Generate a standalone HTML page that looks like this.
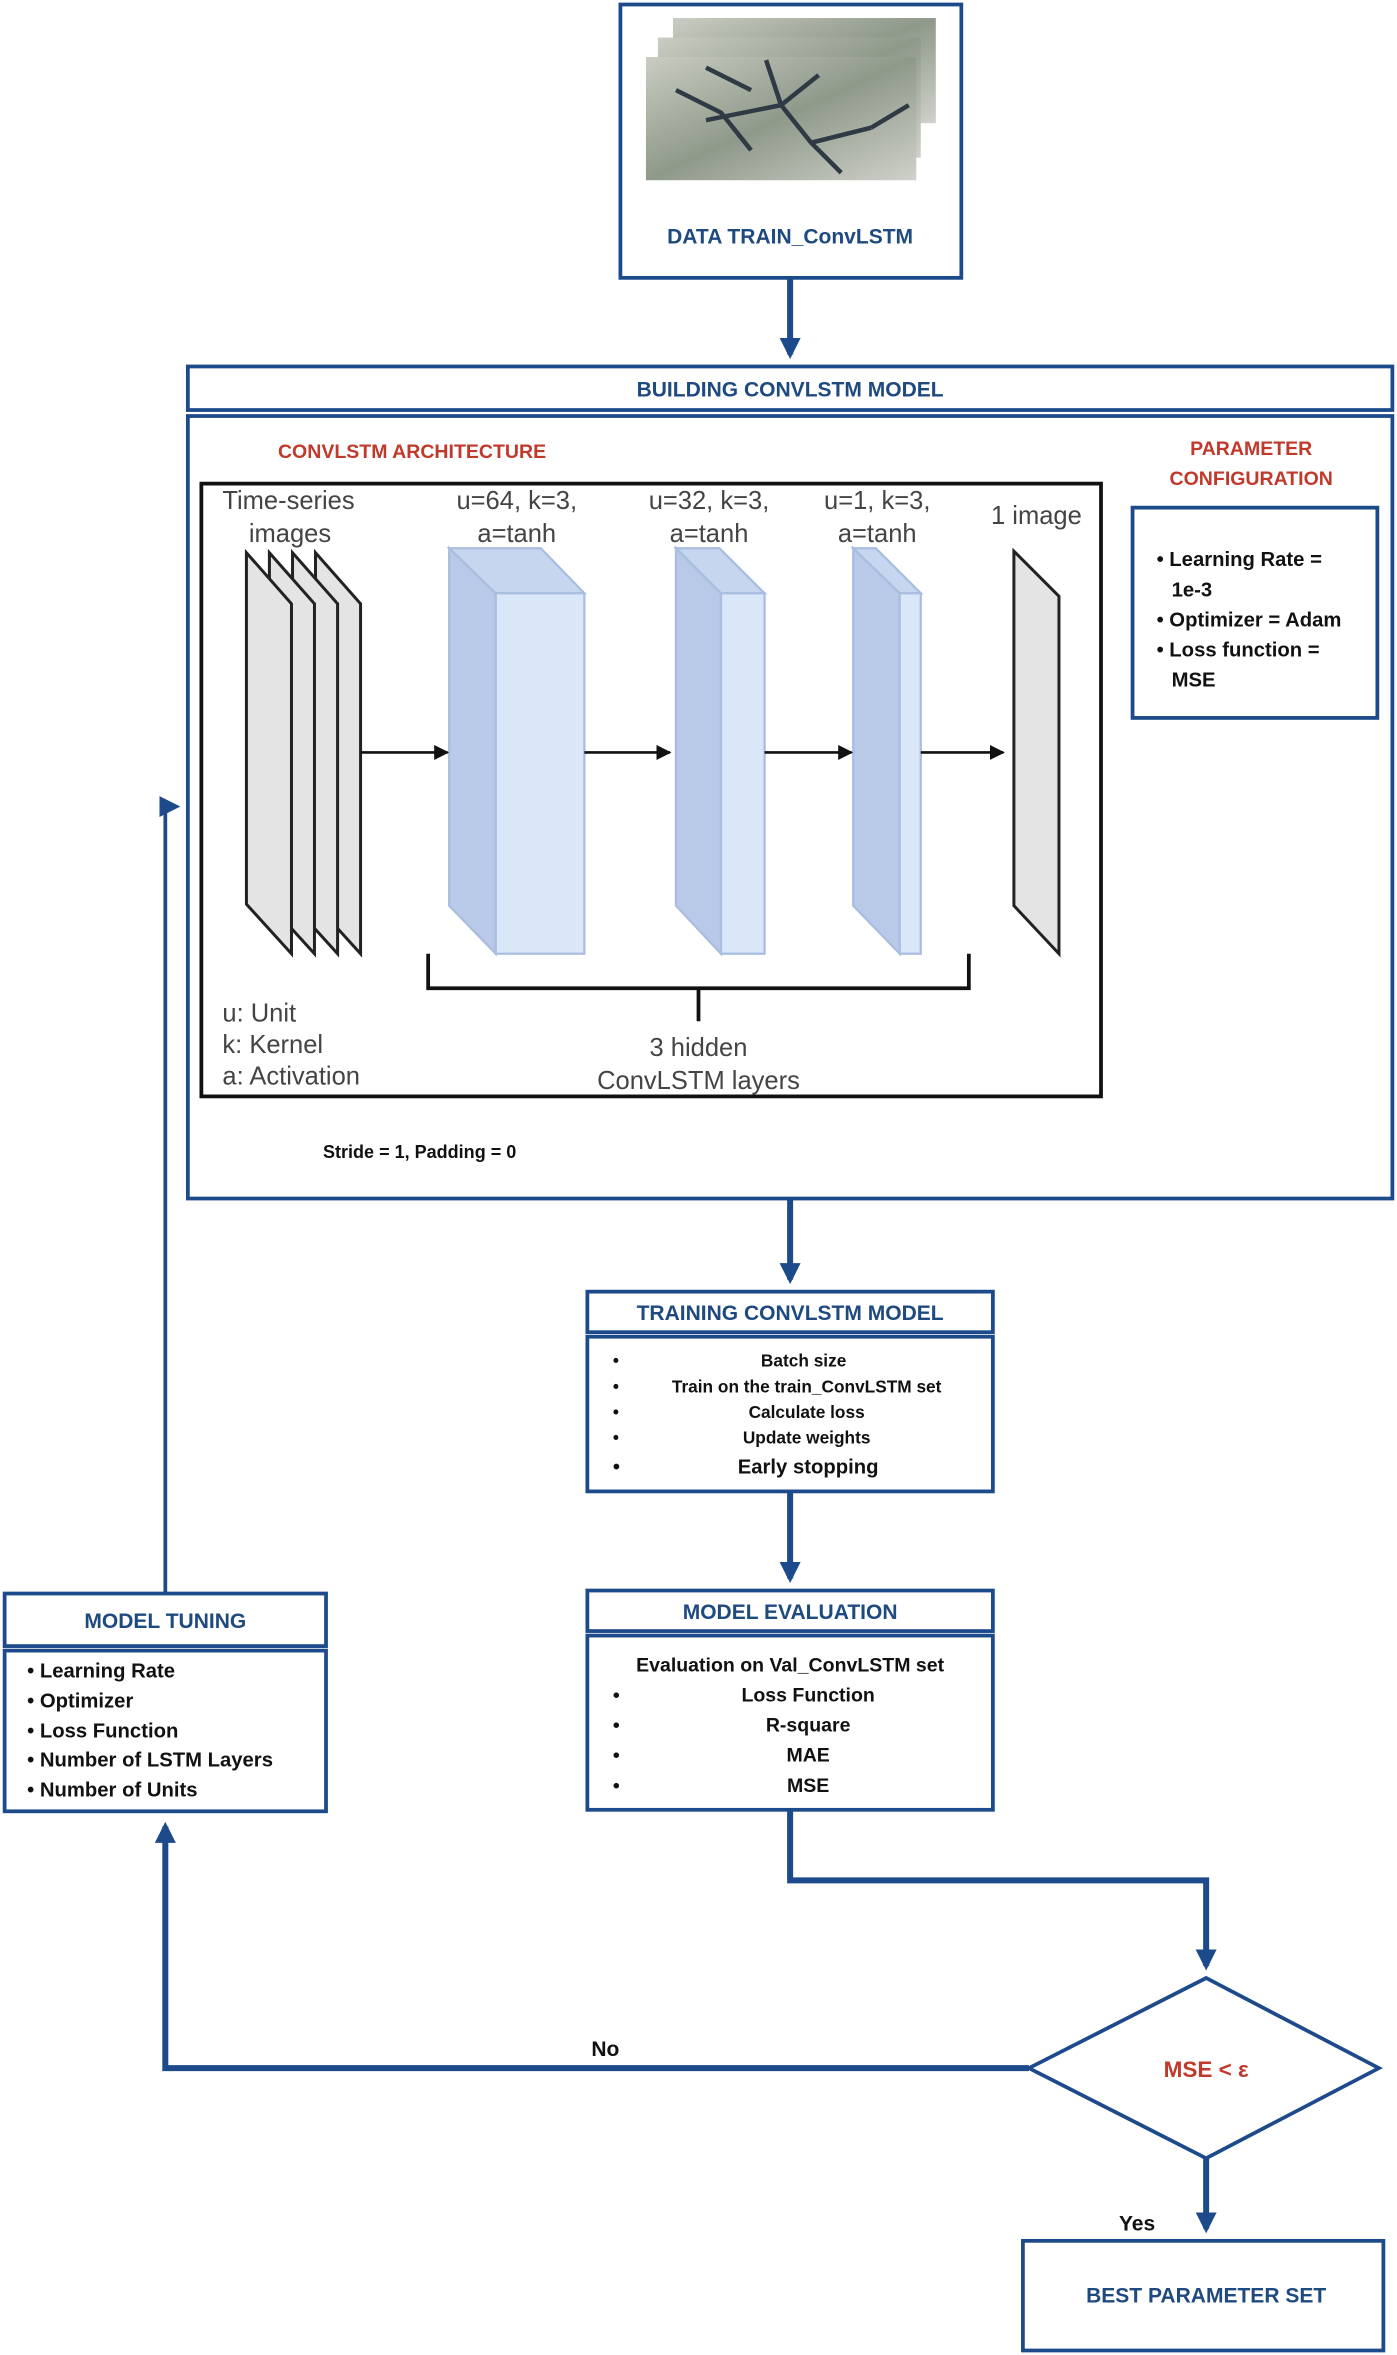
<!DOCTYPE html>
<html><head><meta charset="utf-8"><style>
html,body{margin:0;padding:0;background:#fff}
svg{display:block}
.h{font-family:"Liberation Sans",sans-serif;font-weight:bold;fill:#1f4a80}
.r{font-family:"Liberation Sans",sans-serif;font-weight:bold;fill:#c0392b}
.b{font-family:"Liberation Sans",sans-serif;font-weight:bold;fill:#111}
.a{font-family:"Liberation Sans",sans-serif;fill:#444}
</style></head><body>
<svg width="1397" height="2355" viewBox="0 0 930 1568" xmlns="http://www.w3.org/2000/svg">
<defs>
<marker id="ar" markerWidth="14" markerHeight="14" refX="11" refY="7" orient="auto" markerUnits="userSpaceOnUse"><path d="M0,0 L14,7 L0,14 Z" fill="#1d4a8a"/></marker>
<marker id="ak" markerWidth="10" markerHeight="10" refX="9" refY="5" orient="auto" markerUnits="userSpaceOnUse"><path d="M0,0 L10,5 L0,10 Z" fill="#111"/></marker>
<linearGradient id="sat" x1="0" y1="0" x2="1" y2="1"><stop offset="0" stop-color="#c9ccc2"/><stop offset="0.5" stop-color="#8f998a"/><stop offset="1" stop-color="#cfd1ca"/></linearGradient>
</defs>
<g fill="none" stroke="#1d4a8a" stroke-width="2.5">
<rect x="413" y="3" width="227" height="182"/>
<rect x="125" y="244" width="802" height="29"/>
<rect x="125" y="277" width="802" height="521"/>
<rect x="754" y="338" width="163" height="140"/>
<rect x="391" y="860" width="270" height="27"/>
<rect x="391" y="890" width="270" height="103"/>
<rect x="391" y="1059" width="270" height="27"/>
<rect x="391" y="1089" width="270" height="116"/>
<rect x="3" y="1061" width="214" height="35"/>
<rect x="3" y="1099" width="214" height="107"/>
<rect x="681" y="1492" width="240" height="73"/>
<path d="M685,1377 L803,1317 L918,1377 L803,1437 Z"/>
</g>
<g fill="none" stroke="#1d4a8a" stroke-width="4">
<path d="M526,185 V236" marker-end="url(#ar)"/>
<path d="M526,798 V852" marker-end="url(#ar)"/>
<path d="M526,993 V1051" marker-end="url(#ar)"/>
<path d="M526,1205 V1252 H803 V1309" marker-end="url(#ar)"/>
<path d="M803,1437 V1484" marker-end="url(#ar)"/>
<path d="M685,1377 H110 V1216" marker-end="url(#ar)"/>
</g>
<path d="M110,1061 V537 H117" fill="none" stroke="#1d4a8a" stroke-width="2.5" marker-end="url(#ar)"/>
<rect x="448" y="12" width="175" height="70" fill="url(#sat)"/>
<rect x="438" y="25" width="175" height="80" fill="url(#sat)"/>
<rect x="430" y="38" width="180" height="82" fill="url(#sat)"/>
<path d="M450,60 L480,75 L500,100 M470,80 L520,70 L540,95 L580,85 M520,70 L510,40 M540,95 L560,115 M500,60 L470,45 M545,50 L520,70 M580,85 L605,70" stroke="#2f3a45" stroke-width="3" fill="none"/>
<text class="h" x="526" y="162" font-size="14" text-anchor="middle">DATA TRAIN_ConvLSTM</text>
<text class="h" x="526" y="264" font-size="14" text-anchor="middle">BUILDING CONVLSTM MODEL</text>
<text class="r" x="185" y="305" font-size="13">CONVLSTM ARCHITECTURE</text>
<text class="r" x="833" y="303" font-size="13" text-anchor="middle">PARAMETER</text>
<text class="r" x="833" y="323" font-size="13" text-anchor="middle">CONFIGURATION</text>
<g class="b" font-size="13.5">
<text x="770" y="377">• Learning Rate =</text>
<text x="780" y="397">1e-3</text>
<text x="770" y="417">• Optimizer = Adam</text>
<text x="770" y="437">• Loss function =</text>
<text x="780" y="457">MSE</text>
</g>
<text class="b" x="215" y="771" font-size="12">Stride = 1, Padding = 0</text>
<rect x="134" y="322" width="599" height="408" fill="#fff" stroke="#111" stroke-width="2.5"/>
<g stroke="#222" stroke-width="2" fill="#e4e4e4">
<path d="M210,368 L240,402 L240,635 L210,602 Z"/>
<path d="M194.7,368 L224.7,402 L224.7,635 L194.7,602 Z"/>
<path d="M179.3,368 L209.3,402 L209.3,635 L179.3,602 Z"/>
<path d="M164,368 L194,402 L194,635 L164,602 Z"/>
<path d="M675,367 L705,397 L705,635 L675,603 Z"/>
</g>
<g stroke="#a9bde0" stroke-width="1.5">
<path d="M299,365 L330,395 L330,635 L299,603 Z" fill="#b9c9e8"/>
<path d="M299,365 L360,365 L389,395 L330,395 Z" fill="#c7d6ef"/>
<rect x="330" y="395" width="59" height="240" fill="#dae7f8"/>
<path d="M450,365 L480,395 L480,635 L450,603 Z" fill="#b9c9e8"/>
<path d="M450,365 L479,365 L509,395 L480,395 Z" fill="#c7d6ef"/>
<rect x="480" y="395" width="29" height="240" fill="#dae7f8"/>
<path d="M568,365 L599,395 L599,635 L568,603 Z" fill="#b9c9e8"/>
<path d="M568,365 L583,365 L613,395 L599,395 Z" fill="#c7d6ef"/>
<rect x="599" y="395" width="14" height="240" fill="#dae7f8"/>
</g>
<g stroke="#111" stroke-width="1.8" fill="none">
<path d="M240,501 H298" marker-end="url(#ak)"/>
<path d="M389,501 H446" marker-end="url(#ak)"/>
<path d="M509,501 H567" marker-end="url(#ak)"/>
<path d="M613,501 H668" marker-end="url(#ak)"/>
<path d="M285,635 V658 H645 V635 M465,658 V680" stroke-width="2.5"/>
</g>
<g class="a" font-size="17" text-anchor="middle">
<text x="192" y="339">Time-series</text>
<text x="193" y="361">images</text>
<text x="344" y="339">u=64, k=3,</text>
<text x="344" y="361">a=tanh</text>
<text x="472" y="339">u=32, k=3,</text>
<text x="472" y="361">a=tanh</text>
<text x="584" y="339">u=1, k=3,</text>
<text x="584" y="361">a=tanh</text>
<text x="690" y="349">1 image</text>
<text x="465" y="703">3 hidden</text>
<text x="465" y="725">ConvLSTM layers</text>
</g>
<g class="a" font-size="17">
<text x="148" y="680">u: Unit</text>
<text x="148" y="701">k: Kernel</text>
<text x="148" y="722">a: Activation</text>
</g>
<text class="h" x="526" y="879" font-size="14" text-anchor="middle">TRAINING CONVLSTM MODEL</text>
<g class="b" font-size="11.5">
<text x="408" y="910">•</text><text x="535" y="910" text-anchor="middle">Batch size</text>
<text x="408" y="927">•</text><text x="537" y="927" text-anchor="middle">Train on the train_ConvLSTM set</text>
<text x="408" y="944">•</text><text x="537" y="944" text-anchor="middle">Calculate loss</text>
<text x="408" y="961">•</text><text x="537" y="961" text-anchor="middle">Update weights</text>
<text x="408" y="981" font-size="13.5">•</text><text x="538" y="981" text-anchor="middle" font-size="13.5">Early stopping</text>
</g>
<text class="h" x="526" y="1078" font-size="14" text-anchor="middle">MODEL EVALUATION</text>
<g class="b" font-size="13">
<text x="526" y="1113" text-anchor="middle">Evaluation on Val_ConvLSTM set</text>
<text x="408" y="1133">•</text><text x="538" y="1133" text-anchor="middle">Loss Function</text>
<text x="408" y="1153">•</text><text x="538" y="1153" text-anchor="middle">R-square</text>
<text x="408" y="1173">•</text><text x="538" y="1173" text-anchor="middle">MAE</text>
<text x="408" y="1193">•</text><text x="538" y="1193" text-anchor="middle">MSE</text>
</g>
<text class="h" x="110" y="1084" font-size="14" text-anchor="middle">MODEL TUNING</text>
<g class="b" font-size="13.5">
<text x="18" y="1117">• Learning Rate</text>
<text x="18" y="1137">• Optimizer</text>
<text x="18" y="1157">• Loss Function</text>
<text x="18" y="1176">• Number of LSTM Layers</text>
<text x="18" y="1196">• Number of Units</text>
</g>
<text class="r" x="803" y="1383" font-size="15" text-anchor="middle">MSE &lt; ε</text>
<text class="b" x="403" y="1369" font-size="14" text-anchor="middle">No</text>
<text class="b" x="757" y="1485" font-size="14" text-anchor="middle">Yes</text>
<text class="h" x="803" y="1533" font-size="14" text-anchor="middle">BEST PARAMETER SET</text>
</svg>
</body></html>
